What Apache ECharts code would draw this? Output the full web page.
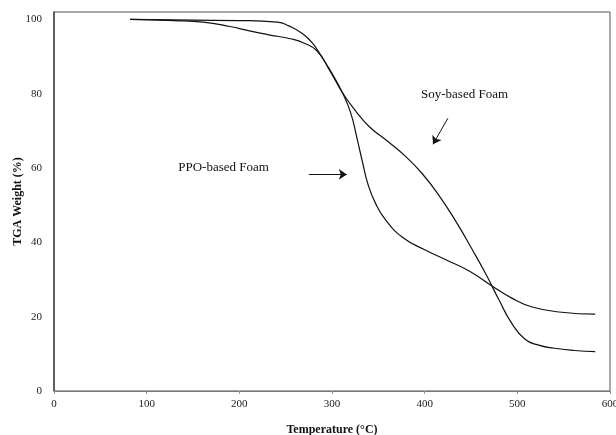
<!DOCTYPE html>
<html>
<head>
<meta charset="utf-8">
<script src="https://cdn.jsdelivr.net/npm/echarts@6/dist/echarts.min.js"></script>
<style>
  html, body { margin: 0; padding: 0; background: #fff; }
  #chart-container { width: 616px; height: 435px; }
</style>
</head>
<body>
<div id="chart-container"></div>
<script>
// Soy-based foam TGA curve: [temperature (°C), weight (%)]
const soyFoam = [
  [82, 100], [130, 99.7], [161, 99.3], [190, 98.1], [211, 96.9], [233, 95.8],
  [255, 94.8], [270, 93.6], [284, 91.5], [297, 86.5], [311, 80.4], [326, 75.2],
  [340, 71.2], [360, 67.2], [380, 63.0], [397, 58.6], [415, 52.8], [434, 45.5],
  [451, 38.2], [466, 31.5], [480, 24.6], [494, 18.2], [508, 14.0], [522, 12.4],
  [540, 11.5], [562, 10.9], [584, 10.6]
];

// PPO-based foam TGA curve
const ppoFoam = [
  [82, 100], [150, 99.8], [200, 99.7], [241, 99.3], [254, 98.2], [268, 96.2],
  [279, 93.6], [290, 89.5], [300, 85.5], [311, 80.4], [320, 75.0], [327, 68.0],
  [333, 61.5], [339, 55.5], [347, 50.5], [358, 46.0], [376, 41.4], [400, 38.0],
  [424, 35.2], [448, 32.3], [473, 28.2], [494, 25.0], [516, 22.6], [548, 21.2],
  [584, 20.7]
];

// annotation labels and arrows, in data coordinates
const soyLabel = ['Soy-based Foam', 443, 79.7];
const ppoLabel = ['PPO-based Foam', 183, 60.0];
const soyArrow = [[425, 73.4], [409, 66.4]];
const ppoArrow = [[275, 58.3], [316, 58.3]];

const serif = '"Liberation Serif", "Times New Roman", serif';

function annotation(label, arrow) {
  return {
    markPoint: {
      symbol: 'circle',
      symbolSize: 0,
      silent: true,
      label: {
        show: true,
        formatter: label[0],
        fontFamily: serif,
        fontSize: 13,
        color: '#111'
      },
      data: [{ coord: [label[1], label[2]] }]
    },
    markLine: {
      silent: true,
      symbol: ['none', 'arrow'],
      symbolSize: 8,
      label: { show: false },
      lineStyle: { color: '#111', width: 1, type: 'solid' },
      data: [[{ coord: arrow[0] }, { coord: arrow[1] }]]
    }
  };
}

const myChart = echarts.init(document.getElementById('chart-container'));
myChart.setOption({
  animation: false,
  grid: {
    left: 54,
    right: 6,
    top: 12,
    bottom: 44,
    outerBoundsMode: 'none',
    show: true,
    borderColor: '#555',
    borderWidth: 1
  },
  xAxis: {
    type: 'value',
    min: 0,
    max: 600,
    interval: 100,
    name: 'Temperature (°C)',
    nameLocation: 'middle',
    nameGap: 33,
    nameMoveOverlap: false,
    nameTextStyle: { fontFamily: serif, fontWeight: 'bold', fontSize: 12, color: '#111' },
    axisLine: { lineStyle: { color: '#777', width: 1 } },
    axisTick: { show: true, length: 3, lineStyle: { color: '#999' } },
    axisLabel: { fontFamily: serif, fontSize: 11, color: '#222', margin: 8 },
    splitLine: { show: false }
  },
  yAxis: {
    type: 'value',
    min: 0,
    max: 102,
    interval: 20,
    name: 'TGA Weight (%)',
    nameLocation: 'middle',
    nameGap: 30,
    nameMoveOverlap: false,
    nameTextStyle: { fontFamily: serif, fontWeight: 'bold', fontSize: 12, color: '#111' },
    axisLine: { show: true, lineStyle: { color: '#444', width: 1.5 } },
    axisTick: { show: false },
    axisLabel: {
      fontFamily: serif,
      fontSize: 11,
      color: '#222',
      margin: 12,
      formatter: (v) => (v % 20 === 0 ? v : '')
    },
    splitLine: { show: false }
  },
  series: [
    Object.assign({
      name: 'Soy-based Foam',
      type: 'line',
      data: soyFoam,
      showSymbol: false,
      smooth: 0.5,
      lineStyle: { color: '#111', width: 1.2 }
    }, annotation(soyLabel, soyArrow)),
    Object.assign({
      name: 'PPO-based Foam',
      type: 'line',
      data: ppoFoam,
      showSymbol: false,
      smooth: 0.5,
      lineStyle: { color: '#111', width: 1.2 }
    }, annotation(ppoLabel, ppoArrow))
  ]
});
</script>
</body>
</html>
